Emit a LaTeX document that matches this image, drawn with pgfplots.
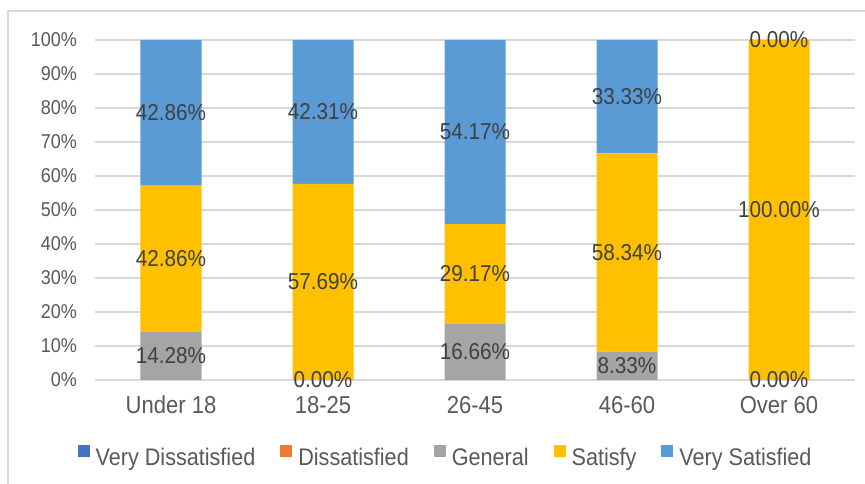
\documentclass[border=0pt]{standalone}
\usepackage{fontspec}
\setmainfont{Liberation Sans}[FakeStretch=0.9]
\usepackage{pgfplots}
\usepackage{pgfplotstable}
\pgfplotsset{compat=1.18}
\definecolor{cvd}{HTML}{4472C4}
\definecolor{cd}{HTML}{ED7D31}
\definecolor{cgen}{HTML}{A5A5A5}
\definecolor{csat}{HTML}{FFC000}
\definecolor{cvs}{HTML}{5B9BD5}
\definecolor{gridc}{HTML}{D9D9D9}
\definecolor{tickc}{HTML}{595959}
\definecolor{labc}{HTML}{404040}
\pgfplotstableread{
x vd d gen sat vs
0 0 0 14.28 42.86 42.86
1 0 0 0 57.69 42.31
2 0 0 16.66 29.17 54.17
3 0 0 8.33 58.34 33.33
4 0 0 0 100 0
}\data
\pgfplotsset{
  common/.style={
    at={(95pt,104pt)}, anchor=south west,
    scale only axis, width=760pt, height=340pt,
    xmin=-0.5, xmax=4.5, ymin=0, ymax=100,
  },
  lab/.style={
    nodes near coords={\pgfmathprintnumber[fixed,fixed zerofill,precision=2,assume math mode=true]{\pgfplotspointmeta}\%},
    every node near coord/.append style={anchor=center, inner sep=0pt,
      font=\fontsize{23}{28}\selectfont, text=labc},
  },
  sq/.style={legend image code/.code={\fill[##1] (0pt,1pt) rectangle (12pt,13pt);}},
}
\begin{document}
\begin{tikzpicture}[x=1pt,y=1pt]
\useasboundingbox (0,0) rectangle (865,484);
\draw[gridc, line width=1.3pt] (8,-5) -- (8,473) -- (870,473);
\begin{axis}[common, ybar stacked, bar width=61pt,
  axis line style={draw=none}, tick style={draw=none},
  ymajorgrids, major grid style={draw=gridc, line width=1.1pt},
  ytick={0,10,...,100},
  yticklabel={\pgfmathprintnumber[assume math mode=true]{\tick}\%},
  yticklabel style={font=\fontsize{20}{24}\selectfont, text=tickc, inner sep=0pt, xshift=-18pt},
  xtick={0,1,2,3,4},
  xticklabels={Under 18,18-25,26-45,46-60,Over 60},
  xticklabel style={font=\fontsize{24.5}{28}\selectfont, text=tickc, inner sep=0pt, yshift=-16pt},
  legend columns=-1,
  legend style={at={(0.46,-0.2235)}, anchor=center, draw=none, fill=none,
    font=\fontsize{24}{28}\selectfont, text=tickc,
    nodes={inner sep=0pt},
    /tikz/every odd column/.append style={column sep=6pt},
    /tikz/every even column/.append style={column sep=25pt}},
]
\addplot[fill=cvd, draw=none, sq] table[x=x, y=vd] {\data};
\addlegendentry{Very Dissatisfied}
\addplot[fill=cd, draw=none, sq] table[x=x, y=d] {\data};
\addlegendentry{Dissatisfied}
\addplot[fill=cgen, draw=none, sq] table[x=x, y=gen] {\data};
\addlegendentry{General}
\addplot[fill=csat, draw=none, sq] table[x=x, y=sat] {\data};
\addlegendentry{Satisfy}
\addplot[fill=cvs, draw=none, sq] table[x=x, y=vs] {\data};
\addlegendentry{Very Satisfied}
\end{axis}
% labels of the non-zero segments, at segment centres
\begin{axis}[common, ybar stacked, bar width=61pt, hide axis, clip=false, lab]
\addplot[draw=none, fill=none] table[x=x, y=gen, meta=gen] {\data};
\addplot[draw=none, fill=none] table[x=x, y=sat, meta=sat] {\data};
\addplot[draw=none, fill=none] table[x=x, y=vs, meta=vs] {\data};
\end{axis}
% labels of the zero-height segments (General at 18-25 and Over 60, Very Satisfied at Over 60)
\begin{axis}[common, hide axis, clip=false, lab]
\addplot[only marks, mark=none, point meta=explicit] coordinates {(1,0) [0] (4,0) [0] (4,100) [0]};
\end{axis}
\end{tikzpicture}
\end{document}
